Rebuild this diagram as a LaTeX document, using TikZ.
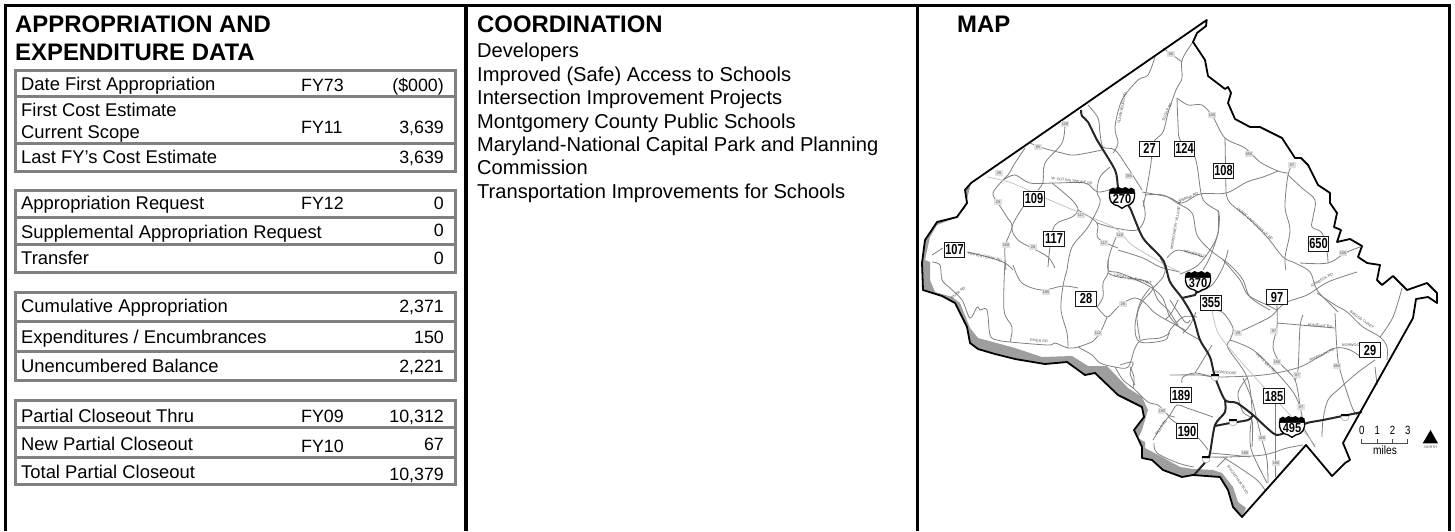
\documentclass[tikz,border=0pt]{standalone}
\usepackage{fontspec}
\setmainfont{Liberation Sans}
\newcommand\sfs[1]{\fontsize{#1}{#1}\selectfont}
\newcommand\shld[1]{\scalebox{.76}[1]{\sfs{14.5}\bfseries #1}}
\newcommand\rd[1]{\draw[road] plot[smooth,tension=.55] coordinates {#1};}
\tikzset{
  frameline/.style={line width=3pt,black},
  tbl/.style={line width=3pt,draw=black!50},
  lab/.style={anchor=base west,inner sep=0pt,font=\sfs{18.4},yshift=-1pt},
  fy/.style={anchor=base west,inner sep=0pt,font=\sfs{17.8},yshift=-1pt},
  val/.style={anchor=base east,inner sep=0pt,font=\sfs{17.8},yshift=-1pt},
  head/.style={anchor=base west,inner sep=0pt,font=\sfs{23.9}\bfseries,yshift=-1.5pt},
  coordtxt/.style={anchor=base west,inner sep=0pt,font=\sfs{20.1},yshift=-1pt},
  road/.style={draw=black!50,line width=.8pt,line join=round},
  rail/.style={draw=black!25,line width=.7pt},
  hwy/.style={draw=black!85,line width=2pt,line join=round},
  routebox/.style={draw=black!90,fill=white,line width=1pt,minimum width=20.5pt,minimum height=15pt,inner sep=0pt},
  mini/.style={fill=black!12,inner sep=0pt,minimum width=8pt,minimum height=6pt,font=\sfs{3.8},text=black!65},
  tiny/.style={inner sep=0pt,font=\sfs{3.7},text=black!70},
}
\newcommand\ishield[3]{% name, position, number
  \begin{scope}[shift={(#2)}]
    \draw[fill=white,line width=1.3pt] (-12.5,-5) .. controls (-13,2) and (-11,6.5) .. (-4,7.8) -- (0,10.3) -- (4,7.8) .. controls (11,6.5) and (13,2) .. (12.5,-5) -- cycle;
    \fill[black] (-12.5,-8.5) -- (-9,-10.5) -- (-7,-9) -- (-3.5,-11) -- (0,-9.5) -- (3.5,-11) -- (7,-9) -- (9,-10.5) -- (12.5,-8.5) -- (13,-4.5) -- (-13,-4.5) -- cycle;
    \node[inner sep=0pt] (#1) at (0,.8) {\scalebox{.85}[1]{\sfs{13}\bfseries #3}};
  \end{scope}}
\newcommand\minishield[2]{%
  \begin{scope}[shift={(#2)}]
    \fill[black] (-4,-1.6) rectangle (4,.2);
    \draw[fill=white,line width=.3pt,draw=black!50] (-4,.2) -- (4,.2) -- (3,3.5) -- (0,5) -- (-3,3.5) -- cycle;
    \coordinate (#1) at (0,2);
  \end{scope}}
\begin{document}
\begin{tikzpicture}[x=1pt,y=-1pt]
\useasboundingbox (0,0) rectangle (1455,531);
\fill[white] (0,0) rectangle (1455,531);
% frame
\draw[frameline,line width=3.4pt] (5.5,531) -- (5.5,5.7) -- (1449.5,5.7) -- (1449.5,531);
\draw[frameline,line width=4pt] (465.5,5.7) -- (465.5,531);
\draw[frameline,line width=3.4pt] (917.5,5.7) -- (917.5,531);
% headings
\node[head] (h1) at (15,30.5) {APPROPRIATION AND};
\node[head] (h2) at (15,59) {EXPENDITURE DATA};
\node[head] (h3) at (477,30.5) {COORDINATION};
\node[head] (h4) at (957,30.5) {MAP};
% tables
\draw[tbl] (15.5,70) rectangle (455.5,171.5);
\draw[tbl] (15.5,96.5) -- (455.5,96.5) (15.5,143) -- (455.5,143);
\draw[tbl] (15.5,190) rectangle (455.5,272);
\draw[tbl] (15.5,217) -- (455.5,217) (15.5,244) -- (455.5,244);
\draw[tbl] (15.5,292) rectangle (455.5,380.5);
\draw[tbl] (15.5,321.5) -- (455.5,321.5) (15.5,351) -- (455.5,351);
\draw[tbl] (15.5,400) rectangle (455.5,484);
\draw[tbl] (15.5,427.5) -- (455.5,427.5) (15.5,457) -- (455.5,457);
% rows
\node[lab] (a1) at (21,89) {Date First Appropriation};
\node[fy] (a2) at (301,90.7) {FY73};
\node[val] (a3) at (444,90.7) {(\$000)};
\node[lab] (b1) at (21,115.8) {First Cost Estimate};
\node[lab] (b2) at (21,137.5) {Current Scope};
\node[fy] (b3) at (301,132) {FY11};
\node[val] (b4) at (444,132) {3,639};
\node[lab] (c1) at (21,162) {Last FY's Cost Estimate};
\node[val] (c2) at (444,162.5) {3,639};
\node[lab] (d1) at (21,208.8) {Appropriation Request};
\node[fy] (d2) at (301,208.8) {FY12};
\node[val] (d3) at (444,208.8) {0};
\node[lab] (e1) at (21,237.5) {Supplemental Appropriation Request};
\node[val] (e2) at (444,235) {0};
\node[lab] (f1) at (21,263) {Transfer};
\node[val] (f2) at (444,263) {0};
\node[lab] (g1) at (21,311.7) {Cumulative Appropriation};
\node[val] (g2) at (444,311) {2,371};
\node[lab] (i1) at (21,342.7) {Expenditures / Encumbrances};
\node[val] (i2) at (444,342.7) {150};
\node[lab] (j1) at (21,371.7) {Unencumbered Balance};
\node[val] (j2) at (444,371.7) {2,221};
\node[lab] (k1) at (21,421.7) {Partial Closeout Thru};
\node[fy] (k2) at (301,421.7) {FY09};
\node[val] (k3) at (444,421.7) {10,312};
\node[lab] (l1) at (21,449) {New Partial Closeout};
\node[fy] (l2) at (301,451) {FY10};
\node[val] (l3) at (444,449) {67};
\node[lab] (m1) at (21,477) {Total Partial Closeout};
\node[val] (m2) at (444,479) {10,379};
% coordination
\node[coordtxt] (t1) at (477,56.7) {Developers};
\node[coordtxt] (t2) at (477,80) {Improved (Safe) Access to Schools};
\node[coordtxt] (t3) at (477,103.5) {Intersection Improvement Projects};
\node[coordtxt] (t4) at (477,127) {Montgomery County Public Schools};
\node[coordtxt] (t5) at (477,150.5) {Maryland-National Capital Park and Planning};
\node[coordtxt] (t6) at (477,173.5) {Commission};
\node[coordtxt] (t7) at (477,197) {Transportation Improvements for Schools};
% ---- MAP ----
% river band
\fill[black!38] (971,183) -- (965,190) -- (967,203) -- (957,217) -- (937,222) -- (925,240) -- (922,263) -- (923,290) -- (942,296) -- (955,303) -- (967,327) -- (970,343) -- (978,349) -- (995,354) -- (1015,359) -- (1045,364) -- (1067,362) -- (1085,375) -- (1095,373) -- (1118,395) -- (1142,407) -- (1144,417) -- (1134,430) -- (1142,447) -- (1142,458) -- (1152,460) -- (1163,470) -- (1182,477) -- (1193,475) -- (1220,477) -- (1228,490) -- (1233,507) -- (1242,517)
 -- (1246,508) -- (1238,502) -- (1233,487) -- (1222,473) -- (1213,470) -- (1193,469) -- (1180,467) -- (1162,457) -- (1145,448) -- (1145,442) -- (1138,438) -- (1142,430) -- (1148,410) -- (1142,397) -- (1128,388) -- (1107,366) -- (1088,366) -- (1072,356) -- (1042,357) -- (1015,348) -- (978,338) -- (970,328) -- (960,303) -- (952,297) -- (935,292) -- (930,280) -- (930,262) -- (925,260) -- (930,237) -- (937,225) -- (955,218) -- (965,208) -- (968,195) -- cycle;
% roads
\rd{(1193,42)(1182,60)(1182,78)(1176,90)(1168,113)(1163,132)(1153,143)(1151,163)(1147,187)(1143,207)}
\rd{(1163,48)(1182,62)}
\rd{(1155,57)(1148,75)(1138,80)(1122,100)(1115,127)(1118,143)(1113,153)}
\rd{(1177,98)(1178,123)(1180,140)(1195,157)(1202,197)(1213,208)(1219,213)(1218,233)(1210,257)(1203,270)}
\rd{(1177,98)(1188,105)(1202,105)(1213,117)(1225,138)(1245,148)(1260,162)(1278,171)(1288,173)}
\rd{(1225,138)(1226,193)}
\rd{(1142,192)(1168,197)(1182,203)(1200,194)(1226,193)(1247,182)(1263,177)(1278,171)}
\rd{(1226,193)(1230,203)(1247,217)(1267,237)(1283,257)(1295,263)(1310,272)(1317,290)(1333,307)(1338,312)}
\rd{(1293,163)(1288,175)(1285,207)(1290,230)(1285,257)(1286,270)}
\rd{(1288,175)(1302,188)(1315,200)(1313,217)(1312,227)(1322,233)(1327,252)(1328,263)}
\rd{(1300,263)(1328,263)(1345,253)(1360,247)}
\rd{(1223,260)(1240,280)(1248,295)(1267,305)(1277,310)}
\rd{(1277,310)(1287,302)(1307,295)(1328,282)(1357,272)}
\rd{(1277,305)(1277,327)(1273,347)(1280,363)(1295,380)(1300,407)}
\rd{(1230,340)(1253,350)(1277,373)(1293,392)(1300,407)(1303,423)}
\rd{(1207,310)(1222,312)(1233,328)(1230,340)(1228,348)(1247,377)(1252,410)(1250,433)(1252,452)(1267,483)}
\rd{(1235,333)(1248,328)(1270,317)(1277,310)}
\rd{(1277,323)(1300,325)(1335,328)}
\rd{(1303,315)(1300,327)(1298,370)(1295,380)}
\rd{(1170,375)(1200,375)(1217,377)(1263,375)(1297,368)(1317,358)(1335,348)(1350,350)(1362,358)}
\rd{(1335,313)(1337,350)(1340,370)(1352,407)(1357,415)}
\rd{(1317,293)(1335,305)(1347,312)(1363,327)(1380,337)(1387,347)(1387,360)}
\rd{(1380,337)(1393,317)(1402,288)}
\rd{(1375,360)(1357,373)(1340,388)(1328,400)(1323,420)(1322,437)}
\rd{(1375,367)(1377,385)}
\rd{(1303,427)(1315,447)}
\rd{(1210,457)(1227,457)(1263,455)(1287,448)(1303,445)}
\rd{(1223,457)(1240,468)(1257,480)(1265,490)}
\rd{(1275,403)(1275,477)}
\rd{(1227,457)(1217,467)}
\rd{(1247,378)(1238,393)(1243,412)(1252,420)(1252,447)}
\rd{(1243,378)(1252,400)(1257,420)(1262,440)(1267,460)(1268,483)}
\rd{(1210,453)(1232,455)(1250,457)}
\rd{(1120,365)(1133,362)(1130,373)(1135,385)}
\rd{(1154,443)(1157,453)(1178,463)(1194,467)}
\rd{(1168,415)(1172,420)(1197,437)(1208,450)}
\rd{(1153,440)(1162,425)(1170,415)(1177,405)(1187,408)(1213,417)}
\rd{(1182,383)(1183,377)(1195,373)(1213,377)}
\rd{(1195,373)(1203,360)(1212,345)}
\rd{(932,262)(940,265)(942,280)(950,288)(962,300)(970,318)(977,307)(980,310)(987,310)(990,335)(997,340)(1010,342)(1048,345)(1055,343)(1068,348)(1078,347)(1092,342)}
\rd{(1107,317)(1100,333)(1092,342)}
\rd{(1078,347)(1092,355)(1100,363)(1115,367)(1128,367)(1135,348)(1142,340)(1160,338)(1170,333)}
\rd{(1130,367)(1134,377)(1133,388)}
\rd{(1115,367)(1123,380)(1133,388)(1148,402)(1158,405)(1168,415)(1175,417)}
\rd{(1097,307)(1107,317)(1115,310)(1123,303)(1135,298)(1145,303)(1155,313)(1172,323)(1185,330)}
\rd{(1108,273)(1118,277)(1142,280)(1153,288)(1142,302)(1137,317)(1140,340)}
\rd{(1153,288)(1163,277)(1165,268)(1160,258)}
\rd{(1153,288)(1158,300)(1168,310)(1178,325)}
\rd{(1108,260)(1108,273)(1103,283)(1103,297)(1097,307)}
\rd{(1005,260)(1004,310)(1012,327)(1010,342)}
\rd{(1013,265)(1022,283)(1042,290)(1063,286)(1078,288)}
\rd{(1067,270)(1063,286)(1061,310)(1067,333)(1068,348)}
\rd{(932,255)(943,248)}
\rd{(967,252)(988,257)(1005,263)(1013,270)}
\rd{(1065,123)(1062,143)(1045,163)(1043,182)(1038,190)}
\rd{(1088,105)(1098,118)(1100,133)(1103,147)(1115,150)(1128,168)(1142,190)}
\rd{(1030,143)(1043,148)(1062,153)(1075,155)(1102,150)}
\rd{(1025,148)(1015,163)(1008,175)(1003,180)(993,193)(998,203)(1007,217)(1012,227)(1005,247)(1006,270)}
\rd{(1003,180)(1015,175)(1030,183)(1055,183)(1085,183)(1098,192)(1118,187)}
\rd{(1110,167)(1100,177)(1097,192)(1100,203)(1088,227)(1072,247)(1067,270)}
\rd{(1052,183)(1072,200)(1078,210)(1072,217)(1055,225)(1050,247)(1048,267)}
\rd{(1023,207)(1012,227)(1018,240)(1032,248)(1048,257)(1055,268)}
\rd{(1078,210)(1097,223)(1098,238)(1118,248)}
\rd{(1097,223)(1115,228)(1137,230)(1145,217)(1143,200)}
\rd{(1118,233)(1110,253)(1108,270)(1120,273)(1147,285)(1162,297)(1170,317)(1183,330)(1200,340)}
\rd{(1118,250)(1143,258)(1160,267)(1180,272)}
\rd{(1145,195)(1163,195)(1177,203)(1192,213)(1197,235)(1210,250)(1230,265)(1243,280)(1250,297)(1270,310)}
\rd{(1218,210)(1218,233)(1210,250)(1197,266)(1180,274)}
\rd{(1167,258)(1178,250)(1203,257)}
\rd{(1228,250)(1223,267)(1212,285)(1197,293)}
\rd{(1150,288)(1140,303)(1135,327)(1140,342)(1165,340)(1170,330)(1183,317)(1197,317)}
\rd{(1196,312)(1190,325)(1183,333)}
\rd{(1170,300)(1185,322)(1190,320)}
\rd{(1178,300)(1172,312)(1165,320)}
\draw[rail] plot[smooth,tension=.5] coordinates {(987,177)(1012,183)(1045,198)(1078,212)(1115,228)(1132,245)(1162,263)(1180,272)};
\draw[rail] plot[smooth,tension=.5] coordinates {(1212,310)(1218,333)(1237,357)(1262,385)(1290,415)(1315,445)};
% highways
\draw[hwy] plot[smooth,tension=.45] coordinates {(1081,110)(1082,116)(1088,122)(1097,140)(1115,170)(1118,187)(1122,198)(1130,208)(1143,238)(1163,260)(1170,282)(1182,298)(1193,317)(1200,340)(1210,357)(1215,377)(1225,400)(1237,403)(1253,415)(1267,428)(1277,435)(1292,430)(1307,423)(1323,420)(1362,412)};
\draw[hwy] plot[smooth,tension=.45] coordinates {(1225,400)(1225,412)(1215,425)(1210,453)(1207,460)(1194,475)};
\draw[hwy] plot[smooth,tension=.45] coordinates {(1215,426)(1230,423)(1248,420)(1253,415)};
\draw[hwy] (1182,298) -- (1195,295) -- (1200,285);
% outline
\draw[black,line width=1.8pt,line join=round] (971,183) -- (1206.7,20) -- (1206,26) -- (1197,33) -- (1193,42) -- (1205,60) -- (1208,76) -- (1225,89) -- (1228,87) -- (1231,93) -- (1228,103) -- (1235,119) -- (1250,127) -- (1260,127) -- (1282,138) -- (1295,158) -- (1301,158) -- (1308,165) -- (1318,185) -- (1330,193) -- (1330,203) -- (1337,213) -- (1334,227) -- (1341,230) -- (1337,242) -- (1350,239) -- (1362,246) -- (1358,257) -- (1367,263) -- (1380,265) -- (1377,280) -- (1382,285) -- (1393,276) -- (1407,290) -- (1427,283) -- (1437,293) -- (1437,303) -- (1428,297) -- (1416,299) -- (1413,318) -- (1343,443) -- (1350,460) -- (1345,463) -- (1332,476) -- (1306,445) -- (1242,517) -- (1233,507) -- (1228,490) -- (1220,477) -- (1193,475) -- (1182,477) -- (1163,470) -- (1152,460) -- (1142,458) -- (1142,447) -- (1134,430) -- (1144,417) -- (1142,407) -- (1118,395) -- (1095,373) -- (1085,375) -- (1067,362) -- (1045,364) -- (1015,359) -- (995,354) -- (978,349) -- (970,343) -- (967,327) -- (955,303) -- (942,296) -- (923,290) -- (922,263) -- (925,240) -- (937,222) -- (957,217) -- (967,203) -- (965,190) -- cycle;
% small road labels and route markers
\foreach \n/\x/\y/\t in {r1/1171/54/80,r2/1065/124/109,r3/1038/147/95,r4/999/173/28,r5/998/202/28,r6/1006/245/109,r7/1033/247/28,r8/1081/215/117,r9/1104/243/117,r10/1120/235/118,r11/1129/176/355,r12/1212/115/108,r13/1249/154/650,r14/1292/165/97,r15/1343/253/108,r16/1046/292/190,r17/1098/333/112,r18/1123/304/28,r19/1238/333/28,r20/1274/331/97,r21/1277/362/190,r22/1297/375/97,r23/1301/407/97,r24/1337/366/650,r25/1162/411/190,r26/1262/438/200,r27/1245/453/188,r28/1276/463/190}{
 \node[mini] (\n) at (\x,\y) {\t};
}
\node[tiny,rotate=-8] (n1) at (1072,181) {W. OLD BALTIMORE RD};
\node[tiny,rotate=78] (n2) at (1122,108) {CLARKSBURG RD};
\node[tiny,rotate=65] (n3) at (1167,112) {SUGAR RD};
\node[tiny,rotate=25] (n4) at (1190,197) {BRINK RD};
\node[tiny,rotate=-42] (n5) at (1255,224) {OLNEY LAYTONSVILLE RD};
\node[tiny,rotate=-12] (n6) at (985,257) {WHITES FERRY RD};
\node[tiny,rotate=-12] (n7) at (1133,279) {GREAT SENECA HWY};
\node[tiny,rotate=-5] (n8) at (1039,341) {RIVER RD};
\node[tiny,rotate=40] (n9) at (958,293) {RIVER RD};
\node[tiny,rotate=80] (n10) at (1176,224) {MONTGOMERY VILLAGE AVE};
\node[tiny,rotate=-12] (n11) at (1195,254) {WOODFIELD};
\node[tiny,rotate=-45] (n13) at (1266,363) {VEIRS MILL RD};
\node[tiny,rotate=30] (n14) at (1322,280) {NORBECK RD};
\node[tiny,rotate=-5] (n15) at (1320,326) {BONIFANT RD};
\node[tiny,rotate=-5] (n16) at (1226,373) {MONTROSE};
\node[tiny,rotate=25] (n17) at (1322,355) {RANDOLPH RD};
\node[tiny,rotate=-35] (n18) at (1362,320) {BRIGGS CHNEY};
\node[tiny,rotate=55] (n19) at (1161,428) {FALLS RD};
\node[tiny,rotate=-55] (n20) at (1238,480) {MACARTHUR BLVD};
\node[tiny] (n21) at (1352,345) {NORWOOD};
% route boxes
\foreach \n/\x/\y/\t in {b27/1149.5/148.5/27,b124/1184.5/148.5/124,b108/1223.5/170.5/108,b109/1034/199/109,b117/1054/238.5/117,b107/954.5/249.5/107,b650/1318.5/244/650,b28/1086/298.5/28,b97/1277/297/97,b355/1211/303/355,b185/1274/396/185,b189/1181/395/189,b190/1187/431/190,b29/1370/350/29}{
 \node[routebox] (\n) at (\x,\y) {\shld{\t}};
}
% interstate shields
\ishield{s270}{1122,198}{270}
\ishield{s370}{1198,282}{370}
\ishield{s495}{1292,427}{495}
\minishield{q1}{1215,376}
\minishield{q2}{1233,421}
\minishield{q3}{1206,458}
\minishield{q4}{1345,416}
% scale
\draw[black!70,line width=.6pt] (1361.7,439) -- (1361.7,443.3) -- (1407.7,443.3) -- (1407.7,439) (1377.3,439) -- (1377.3,443.3) (1392.5,439) -- (1392.5,443.3);
\foreach \n/\x/\t in {d0/1361.7/0,d1/1377.3/1,d2/1392.5/2,d3/1407.7/3}{
 \node[anchor=base,inner sep=0pt] (\n) at (\x,434) {\scalebox{.8}[1]{\sfs{12}\t}};
}
\node[anchor=base,inner sep=0pt] (miles) at (1385,454) {\scalebox{.85}[1]{\sfs{12}miles}};
\fill[black] (1422.7,443.3) -- (1430.5,430) -- (1438,443.3) -- cycle;
\node[inner sep=0pt,font=\sfs{3.6},text=black!70] (north) at (1430.7,447.7) {NORTH};
\end{tikzpicture}
\end{document}
